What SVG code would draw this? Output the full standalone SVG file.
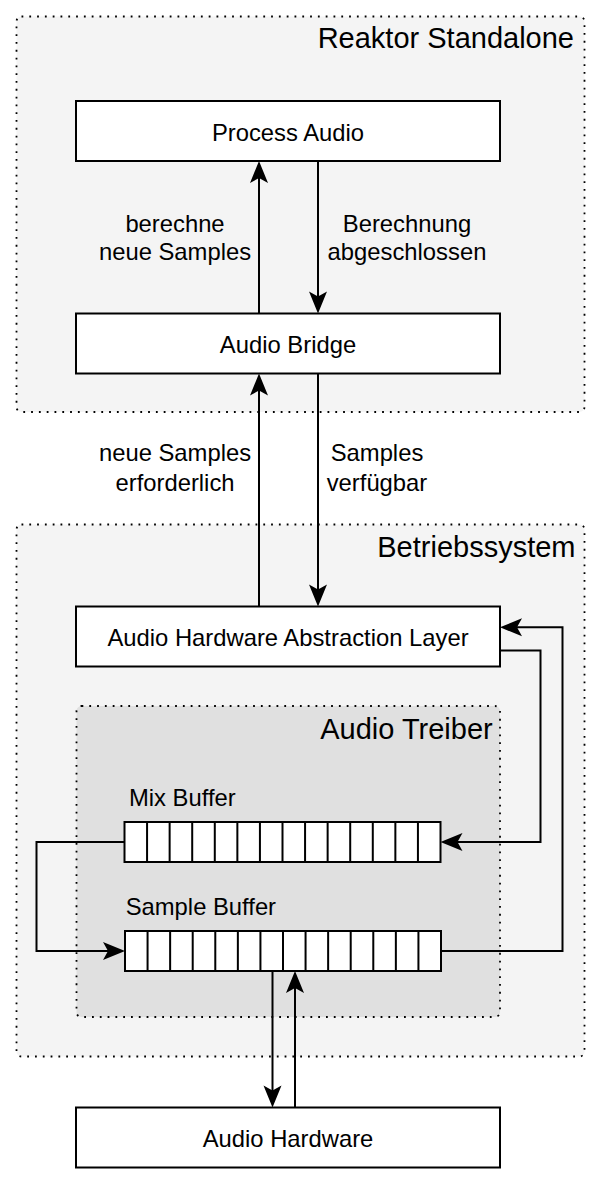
<svg xmlns="http://www.w3.org/2000/svg" width="602" height="1184" viewBox="0 0 602 1184">
<style>
.bg{fill:#ffffff}
.cont{fill:#f4f4f4;stroke:#000;stroke-width:1.8;stroke-dasharray:1.8 6}
.cont2{fill:#e0e0e0;stroke:#000;stroke-width:1.8;stroke-dasharray:1.8 6}
.box{fill:#fff;stroke:#000;stroke-width:2}
.cell{fill:none;stroke:#000;stroke-width:2}
.t{font-family:"Liberation Sans",Arial,sans-serif;font-size:23.8px;fill:#000}
.c{text-anchor:middle}
.title{font-family:"Liberation Sans",Arial,sans-serif;font-size:29px;fill:#000;text-anchor:end}
.conn{fill:none;stroke:#000;stroke-width:2}
.arr{fill:none;stroke:#000;stroke-width:2;marker-end:url(#ah)}
</style>
<defs>
<marker id="ah" markerUnits="userSpaceOnUse" orient="auto" viewBox="-24 -10 25 20" markerWidth="25" markerHeight="20" refX="-10" refY="0" overflow="visible">
<path d="M0,0 L-22,-9 L-17,0 L-22,9 Z" fill="#000"/>
</marker>
</defs>
<rect class="bg" x="0" y="0" width="602" height="1184"/>

<g id="reaktor-standalone">
<rect class="cont" x="16.5" y="16.5" width="568" height="395.5" rx="5"/>
<text class="title" x="574" y="48">Reaktor Standalone</text>
</g>

<g id="betriebssystem">
<rect class="cont" x="16.5" y="524.5" width="568" height="532" rx="5"/>
<text class="title" x="575.5" y="556.7">Betriebssystem</text>
</g>

<g id="audio-treiber">
<rect class="cont2" x="76.5" y="706" width="423.5" height="311" rx="5"/>
<text class="title" x="492.7" y="739.3">Audio Treiber</text>
</g>

<g id="process-audio">
<rect class="box" x="76" y="101" width="424" height="60"/>
<text class="t c" x="288" y="140.7">Process Audio</text>
</g>

<g id="audio-bridge">
<rect class="box" x="76" y="313.5" width="424" height="60"/>
<text class="t c" x="288" y="352.5">Audio Bridge</text>
</g>

<g id="hal">
<rect class="box" x="76" y="606.5" width="424" height="60"/>
<text class="t c" x="288" y="646">Audio Hardware Abstraction Layer</text>
</g>

<g id="mix-buffer">
<text class="t" x="129" y="806">Mix Buffer</text>
<rect class="box" x="124.5" y="822" width="316" height="40"/>
<path class="cell" d="M147.07,822V862M169.64,822V862M192.21,822V862M214.79,822V862M237.36,822V862M259.93,822V862M282.5,822V862M305.07,822V862M327.64,822V862M350.21,822V862M372.79,822V862M395.36,822V862M417.93,822V862"/>
</g>

<g id="sample-buffer">
<text class="t" x="125.7" y="915">Sample Buffer</text>
<rect class="box" x="125" y="931" width="316" height="40"/>
<path class="cell" d="M147.57,931V971M170.14,931V971M192.71,931V971M215.29,931V971M237.86,931V971M260.43,931V971M283,931V971M305.57,931V971M328.14,931V971M350.71,931V971M373.29,931V971M395.86,931V971M418.43,931V971"/>
</g>

<g id="audio-hardware">
<rect class="box" x="76" y="1107.5" width="424" height="60"/>
<text class="t c" x="288" y="1146.5">Audio Hardware</text>
</g>

<g id="connectors">
<path class="arr" d="M259,313.5V171"/>
<path class="arr" d="M318,161V303.5"/>
<path class="arr" d="M259,606.5V383.5"/>
<path class="arr" d="M318,373.5V596.5"/>
<path class="arr" d="M500,650.5H540.5V842H450.5"/>
<path class="arr" d="M124.5,842H36.5V951H115"/>
<path class="arr" d="M441,951H562.5V627.3H510"/>
<path class="arr" d="M272.5,971V1097.5"/>
<path class="arr" d="M295,1107.5V981"/>
<text class="t c" x="175" y="231.7">berechne</text>
<text class="t c" x="175" y="260">neue Samples</text>
<text class="t c" x="407" y="231.7">Berechnung</text>
<text class="t c" x="407" y="260">abgeschlossen</text>
<text class="t c" x="175" y="461">neue Samples</text>
<text class="t c" x="175" y="490.7">erforderlich</text>
<text class="t c" x="377" y="461">Samples</text>
<text class="t c" x="377" y="490.7">verfügbar</text>
</g>
</svg>
